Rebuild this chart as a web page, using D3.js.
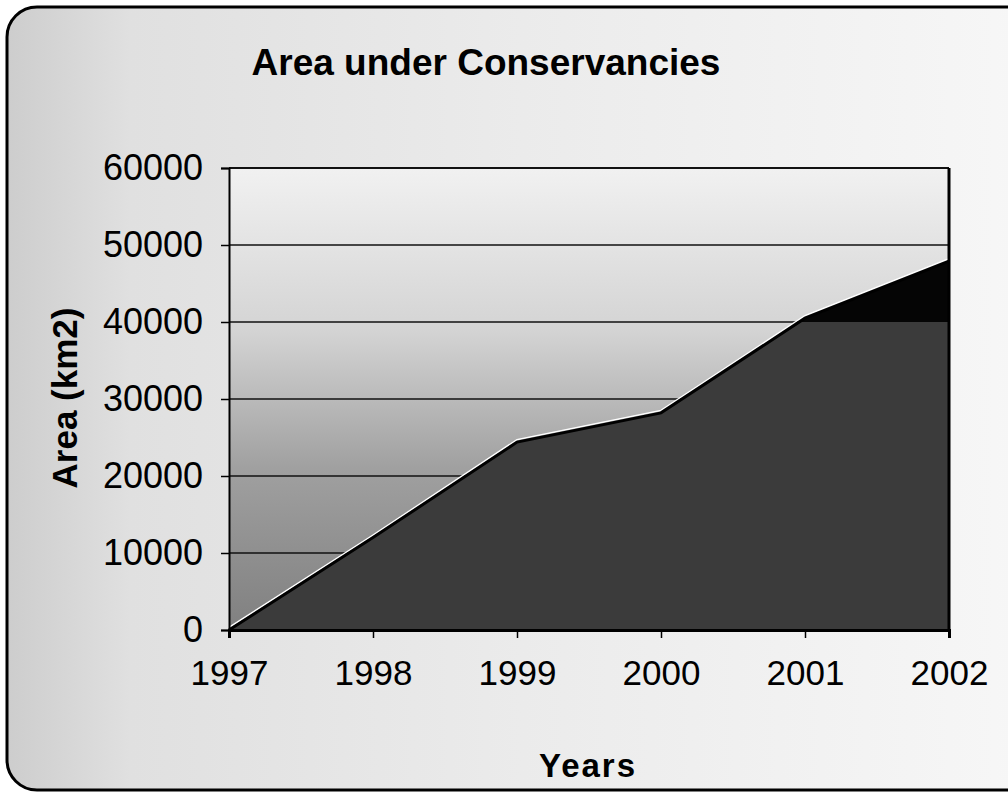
<!DOCTYPE html>
<html>
<head>
<meta charset="utf-8">
<script src="https://cdn.jsdelivr.net/npm/d3@7"></script>
<style>
  html, body { margin: 0; padding: 0; background: #ffffff; }
  svg { display: block; font-family: "Liberation Sans", Arial, sans-serif; }
</style>
</head>
<body>
<svg id="chart" width="1008" height="792"></svg>
<script>
// ---- data ----
const years = [1997, 1998, 1999, 2000, 2001, 2002];
const areaKm2 = [0, 12000, 24400, 28200, 40500, 47900];
const yTicks = [0, 10000, 20000, 30000, 40000, 50000, 60000];
const chartTitle = "Area under Conservancies";
const xTitle = "Years";
const yTitle = "Area (km2)";

const data = years.map((y, i) => ({ year: y, value: areaKm2[i] }));

const svg = d3.select("#chart");
const defs = svg.append("defs");

// outer background gradient
const bg = defs.append("linearGradient").attr("id", "bgGrad")
  .attr("x1", "0").attr("y1", "0").attr("x2", "1").attr("y2", "0");
bg.append("stop").attr("offset", "0").attr("stop-color", "#cdcdcd");
bg.append("stop").attr("offset", "0.12").attr("stop-color", "#e0e0e0");
bg.append("stop").attr("offset", "0.5").attr("stop-color", "#ebebeb");
bg.append("stop").attr("offset", "1").attr("stop-color", "#f7f7f7");

// plot background gradient
const pg = defs.append("linearGradient").attr("id", "plotGrad")
  .attr("x1", "0").attr("y1", "0").attr("x2", "0").attr("y2", "1");
pg.append("stop").attr("offset", "0").attr("stop-color", "#f1f1f1");
pg.append("stop").attr("offset", "0.35").attr("stop-color", "#d4d4d4");
pg.append("stop").attr("offset", "0.65").attr("stop-color", "#a0a0a0");
pg.append("stop").attr("offset", "1").attr("stop-color", "#808080");

// outer frame
svg.append("rect")
  .attr("x", 7).attr("y", 7).attr("width", 1030).attr("height", 783)
  .attr("rx", 30).attr("ry", 30)
  .attr("fill", "url(#bgGrad)")
  .attr("stroke", "#000").attr("stroke-width", 3);

const margin = { left: 229, right: 949, top: 168, bottom: 630 };

const x = d3.scaleLinear().domain([1997, 2002]).range([margin.left, margin.right]);
const y = d3.scaleLinear().domain([0, 60000]).range([margin.bottom, margin.top]);

// plot background
svg.append("rect")
  .attr("x", x(1997)).attr("y", y(60000))
  .attr("width", x(2002) - x(1997)).attr("height", y(0) - y(60000))
  .attr("fill", "url(#plotGrad)");

// gridlines
svg.append("g").selectAll("line").data(yTicks.filter(d => d > 0)).join("line")
  .attr("x1", x(1997)).attr("x2", x(2002))
  .attr("y1", d => y(d)).attr("y2", d => y(d))
  .attr("stroke", "#111").attr("stroke-width", 1.5);

// area
const area = d3.area().x(d => x(d.year)).y0(y(0)).y1(d => y(d.value));
svg.append("path").datum(data).attr("d", area).attr("fill", "#3b3b3b");

// black part above 40000 (as in the reference)
defs.append("clipPath").attr("id", "above40").append("rect")
  .attr("x", x(1997)).attr("y", y(60000))
  .attr("width", x(2002) - x(1997)).attr("height", y(40000) - y(60000));
svg.append("path").datum(data).attr("d", area).attr("fill", "#050505")
  .attr("clip-path", "url(#above40)");

// highlight and line
const lineHi = d3.line().x(d => x(d.year)).y(d => y(d.value) - 2.5);
svg.append("path").datum(data).attr("d", lineHi)
  .attr("fill", "none").attr("stroke", "#ffffff").attr("stroke-width", 1.5);
const line = d3.line().x(d => x(d.year)).y(d => y(d.value));
svg.append("path").datum(data).attr("d", line)
  .attr("fill", "none").attr("stroke", "#000").attr("stroke-width", 3);

// plot frame: top and right
svg.append("line").attr("x1", x(1997)).attr("x2", x(2002))
  .attr("y1", y(60000)).attr("y2", y(60000)).attr("stroke", "#000").attr("stroke-width", 1.5);
svg.append("line").attr("x1", x(2002)).attr("x2", x(2002))
  .attr("y1", y(60000)).attr("y2", y(0)).attr("stroke", "#000").attr("stroke-width", 3);

// axes
const yAxis = d3.axisLeft(y).tickValues(yTicks).tickSize(8).tickPadding(18)
  .tickFormat(d3.format("d"));
const gy = svg.append("g").attr("transform", `translate(${x(1997)},0)`).call(yAxis);
gy.select(".domain").attr("stroke", "#000").attr("stroke-width", 2);
gy.selectAll(".tick line").attr("stroke", "#000").attr("stroke-width", 1.5);
gy.selectAll(".tick text").attr("font-size", 36).attr("fill", "#000")
  .attr("font-family", "Liberation Sans, Arial, sans-serif");

const xAxis = d3.axisBottom(x).tickValues(years).tickSize(8).tickPadding(22)
  .tickFormat(d3.format("d"));
const gx = svg.append("g").attr("transform", `translate(0,${y(0)})`).call(xAxis);
gx.select(".domain").attr("stroke", "#000").attr("stroke-width", 3);
gx.selectAll(".tick line").attr("stroke", "#000").attr("stroke-width", 1.5);
gx.selectAll(".tick text").attr("font-size", 35).attr("fill", "#000")
  .attr("font-family", "Liberation Sans, Arial, sans-serif");

// titles
svg.append("text").attr("x", 486).attr("y", 75).attr("text-anchor", "middle")
  .attr("font-size", 37).attr("font-weight", "bold").text(chartTitle);

svg.append("text").attr("x", 588).attr("y", 777).attr("text-anchor", "middle")
  .attr("font-size", 33).attr("font-weight", "bold").attr("letter-spacing", 2).text(xTitle);

svg.append("text").attr("transform", "translate(77,398) rotate(-90)")
  .attr("text-anchor", "middle").attr("font-size", 35).attr("font-weight", "bold")
  .text(yTitle);
</script>
</body>
</html>
